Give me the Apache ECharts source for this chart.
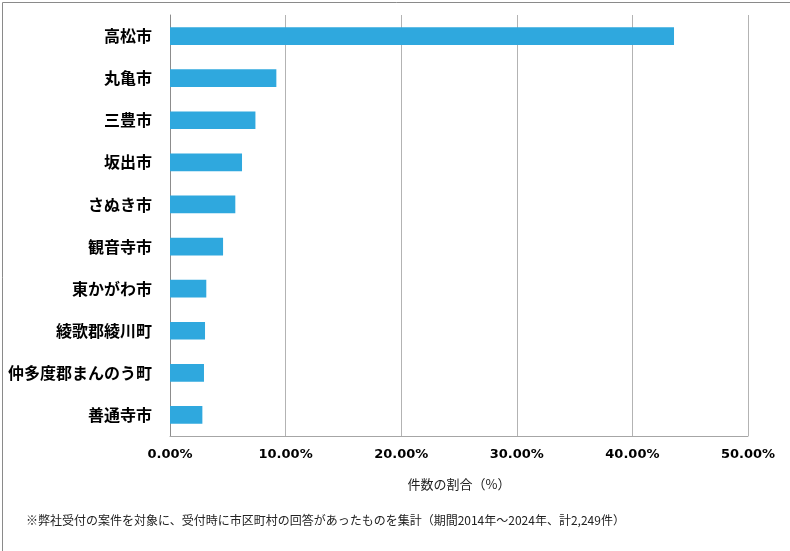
<!DOCTYPE html>
<html>
<head>
<meta charset="utf-8">
<script src="https://cdn.jsdelivr.net/npm/echarts@6/dist/echarts.min.js"></script>
<style>
html,body{margin:0;padding:0;background:#fff;}
#c{width:790px;height:551px;}
</style>
</head>
<body>
<div id="c"></div>
<script>
const categories = ["高松市","丸亀市","三豊市","坂出市","さぬき市","観音寺市","東かがわ市","綾歌郡綾川町","仲多度郡まんのう町","善通寺市"];
const shares = [43.6, 9.20, 7.39, 6.23, 5.65, 4.59, 3.14, 3.03, 2.94, 2.80];
const xTicks = [0, 10, 20, 30, 40, 50];
const axisName = "件数の割合（%）";
const footnote = "※弊社受付の案件を対象に、受付時に市区町村の回答があったものを集計（期間2014年～2024年、計2,249件）";

const FONT = '"Noto Sans CJK JP", "Noto Sans", sans-serif';
const chart = echarts.init(document.getElementById('c'), null, {renderer: 'canvas'});
chart.setOption({
  animation: false,
  backgroundColor: '#fff',
  textStyle: {fontFamily: FONT},
  grid: {left: 170, right: 42, top: 15, bottom: 115, containLabel: false},
  xAxis: {
    type: 'value',
    min: xTicks[0], max: xTicks[xTicks.length-1], interval: 10,
    axisLine: {show: true, lineStyle: {color: '#a6a6a6', width: 1}},
    axisTick: {show: false},
    splitLine: {show: true, lineStyle: {color: '#b3b3b3', width: 1}},
    axisLabel: {
      color: '#000', fontWeight: 'bold', fontSize: 13, fontFamily: '"DejaVu Sans", sans-serif', margin: 12,
      formatter: v => v.toFixed(2) + '%'
    },
    name: axisName, nameLocation: 'middle', nameGap: 42,
    nameTextStyle: {color: '#222', fontSize: 13, fontFamily: FONT}
  },
  yAxis: {
    type: 'category', data: categories, inverse: true,
    axisLine: {show: true, lineStyle: {color: '#8c8c8c', width: 1}},
    axisTick: {show: false},
    splitLine: {show: false},
    axisLabel: {color: '#000', fontWeight: 'bold', fontSize: 16, fontFamily: FONT, margin: 18}
  },
  series: [{
    type: 'bar', data: shares, barWidth: '42%',
    itemStyle: {color: '#2fa8de'}
  }],
  graphic: [
    {type: 'rect', left: 0, top: 0, shape: {width: 789, height: 550}, style: {fill: 'none', stroke: '#8a8a8a', lineWidth: 1}, silent: true, z: 100, position: [0.5, 0.5]},
    {type: 'text', left: 26, top: 514, style: {text: footnote, fill: '#222', font: '12px ' + FONT}}
  ]
});
</script>
</body>
</html>
